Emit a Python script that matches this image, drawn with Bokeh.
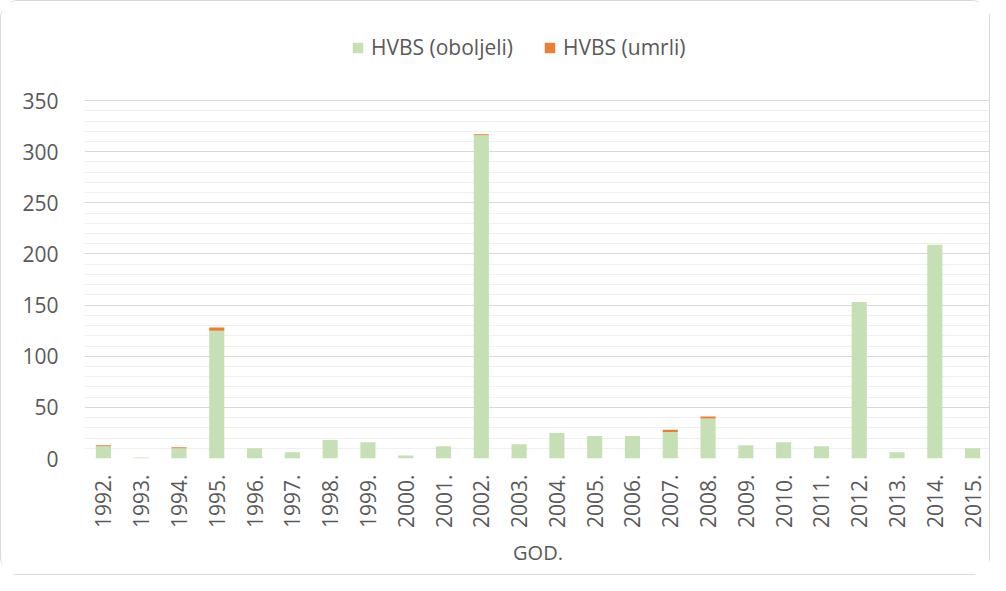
import math
from bokeh.plotting import figure
from bokeh.models import (FactorRange, Range1d, FixedTicker, Legend, LegendItem)
from bokeh.embed import file_html
from bokeh.resources import INLINE

years = ["1992.", "1993.", "1994.", "1995.", "1996.", "1997.", "1998.", "1999.",
         "2000.", "2001.", "2002.", "2003.", "2004.", "2005.", "2006.", "2007.",
         "2008.", "2009.", "2010.", "2011.", "2012.", "2013.", "2014.", "2015."]
oboljeli = [12, 1, 10, 125, 10, 6, 18, 16, 3, 12, 316, 14, 25, 22, 22, 26,
            39, 13, 16, 12, 153, 6, 209, 10]
umrli = [1, 0, 1, 3, 0, 0, 0, 0, 0, 0, 1, 0, 0, 0, 0, 2,
         2, 0, 0, 0, 0, 0, 0, 0]
series_names = ["HVBS (oboljeli)", "HVBS (umrli)"]
colors = ["#C5E0B4", "#ED7D31"]
y_ticks = [0, 50, 100, 150, 200, 250, 300, 350]
y_minor = list(range(0, 351, 10))

FONT = "Open Sans"
TXT = "#595959"

p = figure(x_range=FactorRange(*years, range_padding=0),
           y_range=Range1d(0, 440),
           width=990, height=575, output_backend="svg", toolbar_location=None,
           min_border_left=83, min_border_right=0, min_border_top=7,
           min_border_bottom=118)
p.styles = {"border": "1px solid #d9d9d9", "border-radius": "18px"}
p.outline_line_color = None

src = {"years": years, "oboljeli": oboljeli, "umrli": umrli}
rs = p.vbar_stack(["oboljeli", "umrli"], x="years", width=0.4, color=colors,
                  line_color=None, source=src)

p.yaxis.ticker = FixedTicker(ticks=y_ticks, minor_ticks=y_minor)
p.ygrid.grid_line_color = "#d9d9d9"
p.ygrid.minor_grid_line_color = "#f0f0f0"
p.xgrid.grid_line_color = None

for ax in (p.xaxis[0], p.yaxis[0]):
    ax.axis_line_color = None
    ax.major_tick_line_color = None
    ax.minor_tick_line_color = None
    ax.major_label_text_font = FONT
    ax.major_label_text_font_size = "21px"
    ax.major_label_text_color = TXT

p.yaxis.major_label_standoff = 20
p.xaxis.major_label_orientation = math.pi / 2
p.xaxis.major_label_standoff = 10
p.xaxis.axis_label = "GOD."
p.xaxis.axis_label_text_font = FONT
p.xaxis.axis_label_text_font_size = "20px"
p.xaxis.axis_label_text_font_style = "normal"
p.xaxis.axis_label_text_color = TXT
p.xaxis.axis_label_standoff = 8

legend = Legend(items=[LegendItem(label=series_names[i], renderers=[rs[i]]) for i in range(2)],
                orientation="horizontal", location=(267, 397),
                label_text_font=FONT, label_text_font_size="21px",
                label_text_color=TXT, glyph_width=13, glyph_height=13,
                label_standoff=7, spacing=30, padding=0, margin=0,
                border_line_color=None, background_fill_alpha=0)
p.add_layout(legend, "center")

open("out.html", "w").write(file_html(p, INLINE))
